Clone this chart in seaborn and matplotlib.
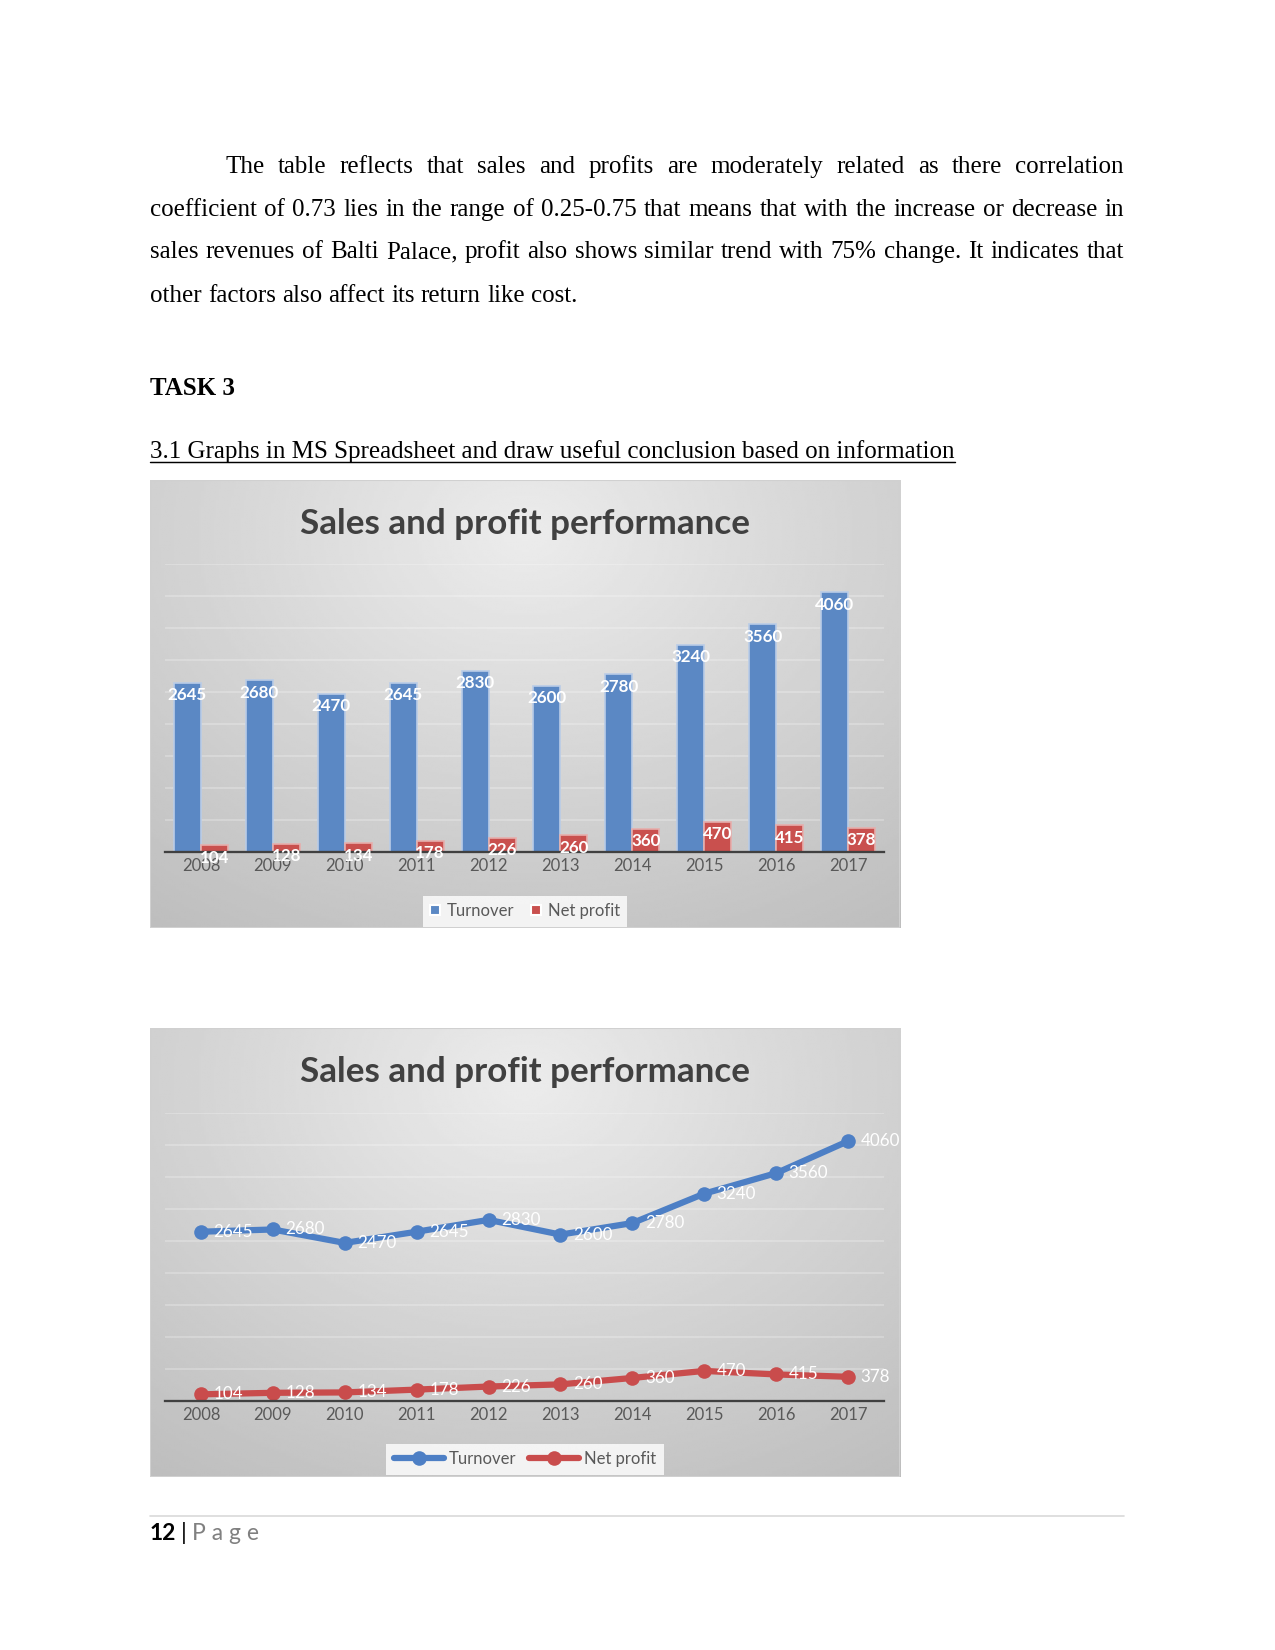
import numpy as np
import pandas as pd
import matplotlib
matplotlib.use("Agg")
import matplotlib.pyplot as plt
from matplotlib.lines import Line2D
from matplotlib.patches import Rectangle
import seaborn as sns

# ---------------- data ----------------
years = ["2008", "2009", "2010", "2011", "2012", "2013", "2014", "2015", "2016", "2017"]
turnover = [2645, 2680, 2470, 2645, 2830, 2600, 2780, 3240, 3560, 4060]
net_profit = [104, 128, 134, 178, 226, 260, 360, 470, 415, 378]
series_names = ["Turnover", "Net profit"]
chart_title = "Sales and profit performance"

body_lines = [
    "The table reflects that sales and profits are moderately related as there correlation",
    "coefficient of 0.73 lies in the range of 0.25-0.75 that means that with the increase or decrease in",
    "sales revenues of Balti Palace, profit also shows similar trend with 75% change. It indicates that",
    "other factors also affect its return like cost.",
]
task_heading = "TASK 3"
section_heading = "3.1 Graphs in MS Spreadsheet and draw useful conclusion based on information"
page_number = "12"
page_word = "P a g e"

# ---------------- style ----------------
sns.set_theme(style="white")
plt.rcParams["font.family"] = ["Lato", "DejaVu Sans"]

BLUE_BAR = "#5b88c4"
RED_BAR = "#c9504e"
BLUE_LINE = "#4d7fc5"
RED_LINE = "#c94c4c"

W, H = 1275, 1650
fig = plt.figure(figsize=(8.5, 11), dpi=150)
fig.patch.set_facecolor("white")
renderer = fig.canvas.get_renderer()


def fx(px):
    return px / W


def fy(py):
    return 1 - py / H


def rect(x0, y0, x1, y1):
    return [x0 / W, 1 - y1 / H, (x1 - x0) / W, (y1 - y0) / H]


# ---------------- page text ----------------
SERIF = ["Liberation Serif", "DejaVu Serif"]


def place_words(words, x0, x1, ybase, justify=True, **kw):
    texts = [fig.text(0, fy(ybase), w, va="baseline", ha="left", **kw) for w in words]
    widths = [t.get_window_extent(renderer).width for t in texts]
    if justify and len(words) > 1:
        gap = (x1 - x0 - sum(widths)) / (len(words) - 1)
    else:
        sp = fig.text(0, 0, "a a", **kw)
        sa = fig.text(0, 0, "aa", **kw)
        gap = sp.get_window_extent(renderer).width - sa.get_window_extent(renderer).width
        sp.remove(); sa.remove()
    x = x0
    for t, w in zip(texts, widths):
        t.set_x(fx(x))
        x += w + gap


baselines = [173, 216, 258, 302]
starts = [225, 150, 150, 150]
for i, line in enumerate(body_lines):
    place_words(line.split(), starts[i], 1124, baselines[i],
                justify=(i < len(body_lines) - 1),
                family=SERIF, fontsize=12, color="black")

fig.text(fx(150), fy(395), task_heading, family=SERIF, fontsize=12,
         fontweight="bold", va="baseline", ha="left", color="black")
sh = fig.text(fx(150), fy(458), section_heading, family=SERIF, fontsize=12,
              va="baseline", ha="left", color="black")
shw = sh.get_window_extent(renderer).width
fig.add_artist(Line2D([fx(150), fx(150 + shw)], [fy(462), fy(462)],
                      transform=fig.transFigure, color="black", lw=0.7))

# footer
fig.add_artist(Line2D([fx(150), fx(1124)], [fy(1516), fy(1516)],
                      transform=fig.transFigure, color="#d9d9d9", lw=0.8))
t1 = fig.text(fx(150), fy(1540), page_number, fontsize=11, fontweight="bold",
              va="baseline", ha="left", color="black")
x = 150 + t1.get_window_extent(renderer).width + 5
t2 = fig.text(fx(x), fy(1540), "|", fontsize=11, va="baseline", ha="left", color="black")
x += t2.get_window_extent(renderer).width + 5
fig.text(fx(x), fy(1540), page_word, fontsize=11, va="baseline", ha="left", color="#808080")


# ---------------- chart panels ----------------
def panel(x0, y0, x1, y1):
    bg = fig.add_axes(rect(x0, y0, x1, y1), zorder=0)
    ny, nx = 200, 300
    yy, xx = np.mgrid[0:1:ny * 1j, 0:1:nx * 1j]
    r = np.sqrt(((xx - 0.5) / 0.75) ** 2 + ((yy - 0.12) / 0.95) ** 2)
    v = 0.925 - 0.16 * np.clip(r, 0, 1.3)
    bg.imshow(v, cmap="gray", vmin=0, vmax=1, extent=[0, 1, 0, 1],
              origin="upper", aspect="auto", interpolation="bilinear")
    bg.add_patch(Rectangle((0, 0), 1, 1, transform=bg.transAxes, fill=False,
                           edgecolor="#d0d0d0", lw=1.0))
    bg.set_axis_off()
    return bg


def style_axis(ax):
    ax.patch.set_alpha(0)
    ax.set_ylim(0, 4500)
    ax.set_yticks(np.arange(500, 4501, 500))
    ax.yaxis.grid(True, color="white", alpha=0.28, lw=0.8)
    ax.set_axisbelow(True)
    ax.tick_params(axis="y", length=0, labelleft=False)
    ax.tick_params(axis="x", length=0, labelsize=8, labelcolor="#595959", pad=3)
    for s in ["top", "right", "left"]:
        ax.spines[s].set_visible(False)
    ax.spines["bottom"].set_color("#404040")
    ax.spines["bottom"].set_linewidth(1.1)
    ax.spines["bottom"].set_zorder(5)
    ax.set_xlabel("")
    ax.set_ylabel("")


df = pd.DataFrame({
    "Year": years * 2,
    "Series": [series_names[0]] * len(years) + [series_names[1]] * len(years),
    "Value": turnover + net_profit,
})
df["YearNum"] = df["Year"].astype(int)

# ---- Chart 1: bars ----
panel(150, 480, 900, 928)
ax1 = fig.add_axes(rect(165, 564, 884, 852), zorder=2)
sns.barplot(data=df, x="Year", y="Value", hue="Series", hue_order=series_names,
            palette=[BLUE_BAR, RED_BAR], width=0.75, gap=0, saturation=1,
            ax=ax1, legend=True)
ax1.set_xlim(-0.5, len(years) - 0.5)
style_axis(ax1)
edge_cols = ["#b9cce7", "#e6aeac"]
for cont, ec in zip(ax1.containers, edge_cols):
    for bar in cont:
        bar.set_edgecolor(ec)
        bar.set_linewidth(0.8)
        ax1.annotate(f"{bar.get_height():.0f}",
                     (bar.get_x() + bar.get_width() / 2, bar.get_height()),
                     xytext=(0, -6), textcoords="offset points",
                     ha="center", va="center", fontsize=8.2, fontweight="bold",
                     color="white", zorder=6, annotation_clip=False)
h1, l1 = ax1.get_legend_handles_labels()
ax1.get_legend().remove()
leg1 = fig.legend(h1, l1, loc="center", bbox_to_anchor=(fx(525), fy(911)),
                  ncol=2, fontsize=8, frameon=True, fancybox=False,
                  handlelength=0.6, handleheight=0.6, handletextpad=0.4,
                  columnspacing=1.0, borderpad=0.45, labelcolor="#595959")
leg1.get_frame().set_facecolor((1, 1, 1, 0.18))
leg1.get_frame().set_edgecolor("none")

fig.text(fx(525), fy(524), chart_title, ha="center", va="center",
         fontsize=16.8, fontweight="bold", color="#404040")

# ---- Chart 2: lines ----
panel(150, 1028, 900, 1477)
ax2 = fig.add_axes(rect(165, 1113, 884, 1401), zorder=2)
sns.lineplot(data=df, x="YearNum", y="Value", hue="Series", hue_order=series_names,
             palette=[BLUE_LINE, RED_LINE], marker="o", markersize=7,
             markeredgewidth=0, linewidth=3.0, ax=ax2, legend=True)
ax2.set_xlim(int(years[0]) - 0.5, int(years[-1]) + 0.5)
ax2.set_xticks([int(y) for y in years])
ax2.set_xticklabels(years)
style_axis(ax2)
for line in ax2.get_lines():
    line.set_solid_capstyle("round")
    line.set_clip_on(False)
for xs, vals in [(df["YearNum"][: len(years)], turnover), (df["YearNum"][len(years):], net_profit)]:
    for xv, v in zip(xs, vals):
        ax2.annotate(f"{v}", (xv, v), xytext=(6, 0), textcoords="offset points",
                     ha="left", va="center", fontsize=8.2, color="white",
                     zorder=6, annotation_clip=False)
h2, l2 = ax2.get_legend_handles_labels()
ax2.get_legend().remove()
leg2 = fig.legend(h2, l2, loc="center", bbox_to_anchor=(fx(525), fy(1459)),
                  ncol=2, fontsize=8, frameon=True, fancybox=False,
                  handlelength=3.0, handletextpad=0.3, columnspacing=0.8,
                  borderpad=0.45, labelcolor="#595959")
leg2.get_frame().set_facecolor((1, 1, 1, 0.18))
leg2.get_frame().set_edgecolor("none")

fig.text(fx(525), fy(1072), chart_title, ha="center", va="center",
         fontsize=16.8, fontweight="bold", color="#404040")

fig.savefig("out.png", dpi=150, facecolor="white")
